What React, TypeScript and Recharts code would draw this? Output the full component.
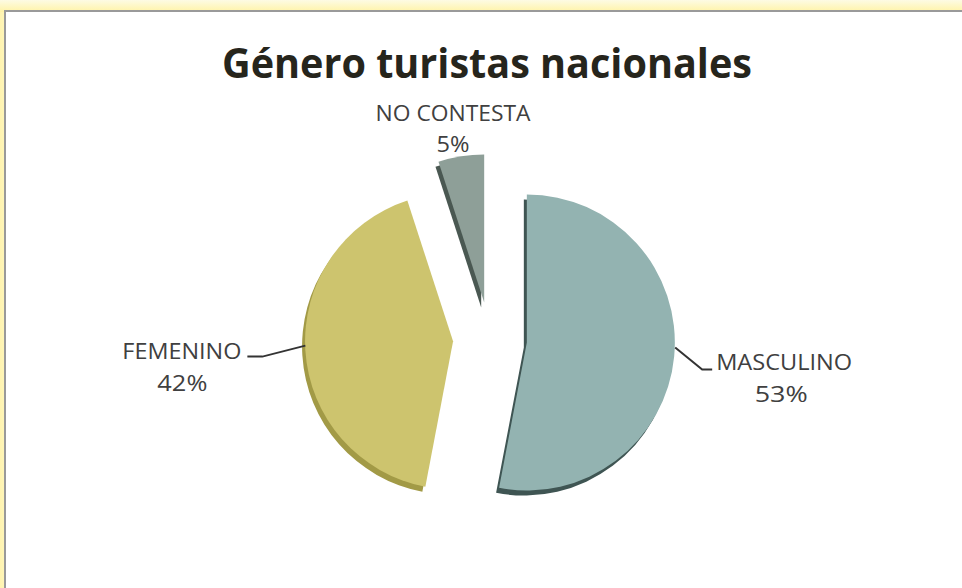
import { PieChart, Pie, Cell } from "recharts";

const categories = ["MASCULINO", "FEMENINO", "NO CONTESTA"];
const percents = [53, 42, 5];
const COLORS = ["#93b3b1", "#cdc46e", "#8e9f98"];
const SHADOWS = ["#3f5553", "#a29a46", "#4a5852"];

const data = categories.map((name, i) => ({ name, value: percents[i] }));

const CX = 490;
const CY = 339;
const R = 148;
const EXPLODE = 37;
const SHADOW_DX = -3;
const SHADOW_DY = 5;
const RADIAN = Math.PI / 180;

// label layout, offsets from the point where the slice's mid line meets the arc
const LABEL_LAYOUT = {
  MASCULINO: {
    line: [[1, -9], [28, 13], [38, 13]],
    name: { dx: 42, dy: 14, anchor: "start", width: 136 },
    pct: { dx: 107, dy: 46, width: 53 },
  },
  FEMENINO: {
    line: [[0, -5], [-43, 6], [-58, 6]],
    name: { dx: -64, dy: 8, anchor: "end", width: 119 },
    pct: { dx: -123, dy: 40, width: 50 },
  },
  "NO CONTESTA": {
    line: null,
    name: { dx: -8, dy: -35, anchor: "middle", width: 155 },
    pct: { dx: -8, dy: -4, width: 33 },
  },
};

// exploded centre of each slice, along its mid angle
const total = percents.reduce((a, b) => a + b, 0);
let acc = 0;
const offsets = percents.map((v) => {
  const mid = (acc + v / 2) / total;
  acc += v;
  const a = (90 - mid * 360) * RADIAN;
  return { dx: EXPLODE * Math.cos(a), dy: -EXPLODE * Math.sin(a) };
});

const renderLabel = (slice) => (props) => {
  if (props.index !== slice) return null;
  const { cx, cy, midAngle, name, value } = props;
  const ex = cx + R * Math.cos(-midAngle * RADIAN);
  const ey = cy + R * Math.sin(-midAngle * RADIAN);
  const cfg = LABEL_LAYOUT[name];
  const font = { fontFamily: "'Open Sans', sans-serif", fontSize: 21, fill: "#404040" };
  return (
    <g>
      {cfg.line && (
        <polyline
          points={cfg.line.map(([x, y]) => `${ex + x},${ey + y}`).join(" ")}
          fill="none"
          stroke="#333"
          strokeWidth={2}
        />
      )}
      <text
        x={ex + cfg.name.dx}
        y={ey + cfg.name.dy}
        textAnchor={cfg.name.anchor}
        textLength={cfg.name.width}
        lengthAdjust="spacingAndGlyphs"
        {...font}
      >
        {name}
      </text>
      <text
        x={ex + cfg.pct.dx}
        y={ey + cfg.pct.dy}
        textAnchor="middle"
        textLength={cfg.pct.width}
        lengthAdjust="spacingAndGlyphs"
        {...font}
      >
        {`${value}%`}
      </text>
    </g>
  );
};

export default function App() {
  return (
    <div
      style={{
        position: "absolute",
        left: 0,
        top: 0,
        width: 962,
        height: 588,
        overflow: "hidden",
        background: "linear-gradient(to right, #fff4b0 0px, #fff6bc 6px, #fff6bc 100%)",
      }}
    >
      <div
        style={{
          position: "absolute",
          left: 0,
          top: 0,
          width: 962,
          height: 12,
          background: "linear-gradient(#fdfbe4, #fff3a6)",
        }}
      />
      <div
        style={{
          position: "absolute",
          left: 4,
          top: 10,
          width: 970,
          height: 576,
          background: "#fff",
          borderLeft: "2px solid #9a9a9a",
          borderTop: "2px solid #9a9a9a",
          borderBottom: "2px solid #9a9a9a",
        }}
      />
      <svg
        width={962}
        height={100}
        style={{ position: "absolute", left: 0, top: 0 }}
      >
        <text
          x={222}
          y={78}
          textLength={530}
          lengthAdjust="spacingAndGlyphs"
          fontFamily="'Open Sans', sans-serif"
          fontWeight="bold"
          fontSize={42}
          fill="#26251c"
        >
          Género turistas nacionales
        </text>
      </svg>
      <div style={{ position: "absolute", left: 0, top: 0 }}>
        <PieChart width={962} height={588} margin={{ top: 0, right: 0, bottom: 0, left: 0 }}>
          {offsets.map((o, i) => (
            <Pie
              key={`shadow-${i}`}
              data={data}
              dataKey="value"
              nameKey="name"
              cx={CX + o.dx + SHADOW_DX}
              cy={CY + o.dy + SHADOW_DY}
              outerRadius={R}
              startAngle={90}
              endAngle={-270}
              stroke="none"
              isAnimationActive={false}
            >
              {data.map((d, j) => (
                <Cell key={d.name} fill={j === i ? SHADOWS[i] : "none"} />
              ))}
            </Pie>
          ))}
          {offsets.map((o, i) => (
            <Pie
              key={`slice-${i}`}
              data={data}
              dataKey="value"
              nameKey="name"
              cx={CX + o.dx}
              cy={CY + o.dy}
              outerRadius={R}
              startAngle={90}
              endAngle={-270}
              stroke="none"
              isAnimationActive={false}
              labelLine={false}
              label={renderLabel(i)}
            >
              {data.map((d, j) => (
                <Cell key={d.name} fill={j === i ? COLORS[i] : "none"} />
              ))}
            </Pie>
          ))}
        </PieChart>
      </div>
    </div>
  );
}
